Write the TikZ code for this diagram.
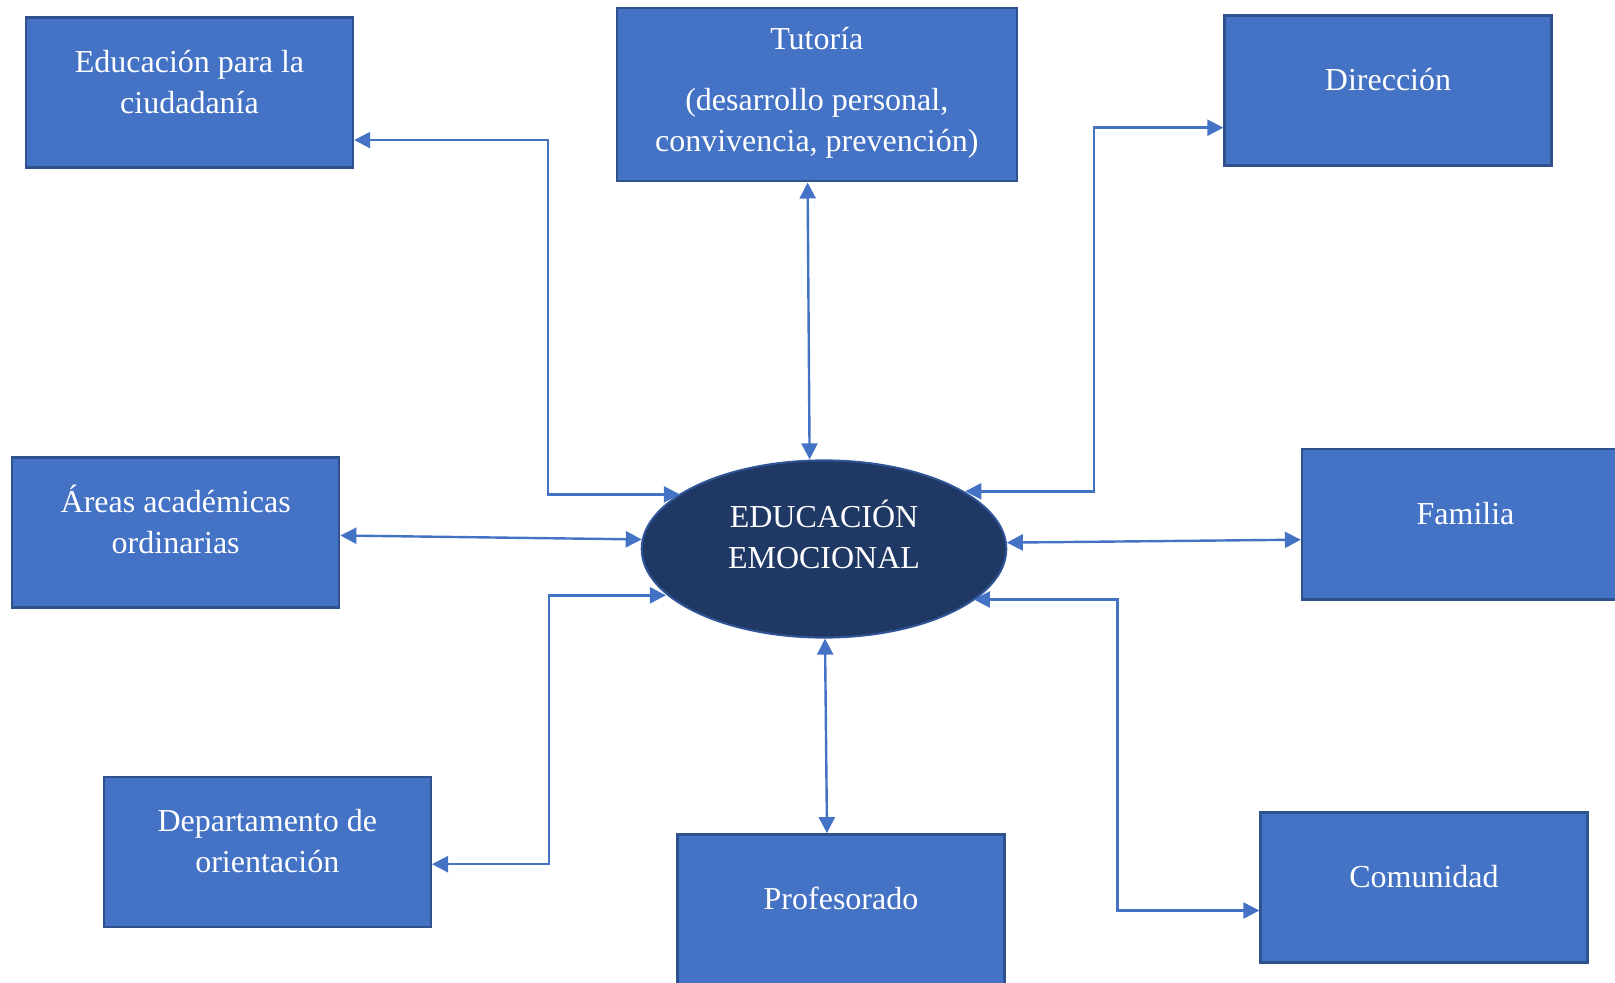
\documentclass[tikz,border=0pt]{standalone}
\usepackage{fontspec}
\setmainfont{Liberation Serif}
\usetikzlibrary{shapes.geometric, arrows.meta}

\definecolor{boxfill}{HTML}{4472C4}
\definecolor{boxline}{HTML}{2F528F}
\definecolor{ellfill}{HTML}{203864}
\definecolor{ellline}{HTML}{2F5597}
\definecolor{linkblue}{HTML}{4472C4}

\begin{document}
\begin{tikzpicture}[
    x=0.5pt, y=-0.5pt,
    box/.style   = {rectangle, draw=boxline, fill=boxfill, line width=1.2pt,
                    minimum width=163.5pt, minimum height=75pt, inner sep=0pt},
    core/.style  = {ellipse, draw=ellline, fill=ellfill, line width=1pt,
                    minimum width=182.3pt, minimum height=88.6pt, inner sep=0pt},
    txt/.style   = {text=white, align=center, yshift=5.5pt,
                    font=\fontsize{16}{20.5}\selectfont},
    link/.style  = {<->, >={Triangle[length=8pt, width=8pt]},
                    line width=1.2pt, draw=linkblue},
]
\useasboundingbox (0,0) rectangle (1615,983);

% ============================================================
%  CENTRE  -  Educación emocional
% ============================================================
\node[core, label={[txt, yshift=2pt]center:{EDUCACIÓN\\EMOCIONAL}}]
    (emo) at (824,549) {};

% ============================================================
%  BOXES  -  top row
% ============================================================
\node[box, label={[txt]center:{Educación para la\\ciudadanía}}]
    (ciud) at (189.5,92.7) {};
\node[box, minimum width=200pt, minimum height=86.5pt,
      label={[txt, yshift=-4.5pt]center:{Tutoría\\[10pt](desarrollo personal,\\convivencia, prevención)}}]
    (tut) at (816.8,94.8) {};
\node[box, label={[txt]center:{Dirección}}]
    (dir) at (1388,90.7) {};

% ============================================================
%  BOXES  -  middle row
% ============================================================
\node[box, label={[txt, yshift=1pt]center:{Áreas académicas\\ordinarias}}]
    (areas) at (175.7,532.5) {};
\node[box, label={[txt]center:{Familia}}]
    (fam) at (1465.5,524.3) {};

% ============================================================
%  BOXES  -  bottom row
% ============================================================
\node[box, label={[txt]center:{Departamento de\\orientación}}]
    (dep) at (267.3,851.8) {};
\node[box, label={[txt]center:{Profesorado}}]
    (prof) at (841,909.3) {};
\node[box, label={[txt]center:{Comunidad}}]
    (com) at (1424,887.3) {};

% ============================================================
%  STRAIGHT LINKS
% ============================================================
\draw[link] ([xshift=-4.6pt]tut.south) -- ([xshift=-7.2pt]emo.north);
\draw[link] ([xshift=0.5pt]emo.south)  -- ([xshift=-7pt]prof.north);
\draw[link] ([yshift=-1.5pt]areas.east) -- (emo.177);
\draw[link] (emo.2) -- ([yshift=-7.7pt]fam.west);

% ============================================================
%  ELBOW LINKS  -  bend points
% ============================================================
\coordinate (bendA) at (548,494.4);
\coordinate (bendD) at (1094,491.3);
\coordinate (bendO) at (549,595.3);
\coordinate (bendC) at (1117.6,599.5);

\draw[link] ([yshift=-23.7pt]ciud.east) -| (bendA) -- (emo.159 |- bendA);
\draw[link] (emo.22.5 |- bendD) -- (bendD) |- ([yshift=-18.5pt]dir.west);
\draw[link] (emo.196.6 |- bendO) -- (bendO) |- ([yshift=-6.2pt]dep.east);
\draw[link] (emo.341.6 |- bendC) -- (bendC) |- ([yshift=-11.6pt]com.west);

\end{tikzpicture}
\end{document}
